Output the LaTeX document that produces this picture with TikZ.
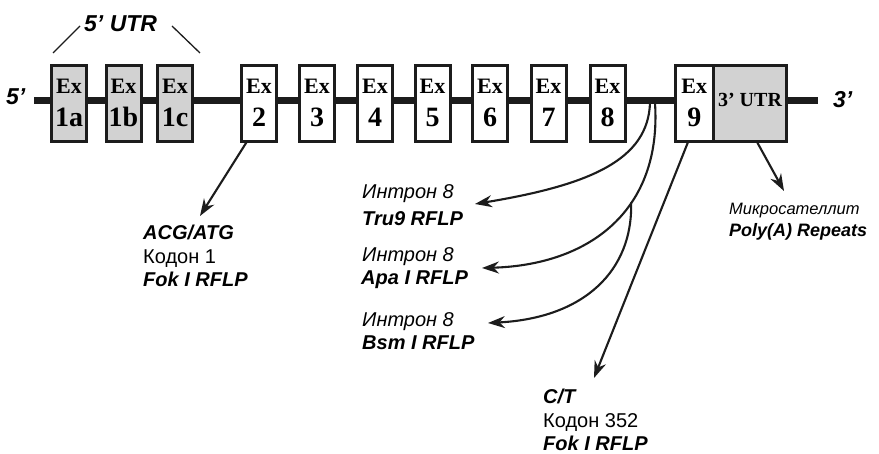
\documentclass[tikz,border=0pt]{standalone}
\usepackage{fontspec}
\setmainfont{Liberation Serif}
\newfontfamily\labfont{Liberation Sans}
\usetikzlibrary{arrows.meta}
\definecolor{boxgray}{HTML}{D2D2D2}
\definecolor{ink}{HTML}{1C1C1C}
\begin{document}
\begin{tikzpicture}[x=1pt,y=-1pt,
  exon/.style={draw=ink, line width=3pt, fill=white, minimum width=35pt, minimum height=76pt, inner sep=0pt, outer sep=0pt},
  gexon/.style={exon, fill=boxgray},
  extxt/.style={font=\fontsize{22}{22}\selectfont\bfseries, anchor=base, inner sep=0pt},
  numtxt/.style={font=\fontsize{28}{28}\selectfont\bfseries, anchor=base, inner sep=0pt},
  lab/.style={anchor=base west, inner sep=0pt, font=\labfont\fontsize{20}{20}\selectfont},
  labbi/.style={lab, font=\labfont\fontsize{20}{20}\selectfont\bfseries\itshape},
  labi/.style={lab, font=\labfont\fontsize{20}{20}\selectfont\itshape},
  endlab/.style={anchor=base west, inner sep=0pt, font=\labfont\fontsize{23}{23}\selectfont\bfseries\itshape},
  ptr/.style={draw=ink, line width=2.1pt, -{Stealth[length=17pt,width=12pt]}},
  thin/.style={draw=ink, line width=1.3pt}]
\useasboundingbox (0,0) rectangle (879,454);
\fill[white] (0,0) rectangle (879,454);

% backbone
\coordinate (b5) at (34,101);
\coordinate (b3) at (818,101);
\draw[ink, line width=7pt] (b5) -- (b3);

% exons
\node[gexon] (e1a) at (69,103.5) {};
\node[gexon] (e1b) at (123.5,103.5) {};
\node[gexon] (e1c) at (175,103.5) {};
\node[exon] (e2) at (259,103.5) {};
\node[exon] (e3) at (317,103.5) {};
\node[exon] (e4) at (375,103.5) {};
\node[exon] (e5) at (432.5,103.5) {};
\node[exon] (e6) at (490,103.5) {};
\node[exon] (e7) at (548.5,103.5) {};
\node[exon] (e8) at (607.5,103.5) {};
\node[exon, minimum width=37.5pt] (e9) at (694.25,103.5) {};
\node[gexon, minimum width=73.5pt] (utr) at (749.75,103.5) {};

\foreach \n/\x/\t in {t1a/69/1a, t1b/123.5/1b, t1c/175/1c, t2/259/2, t3/317/3, t4/375/4, t5/432.5/5, t6/490/6, t7/548.5/7, t8/607.5/8, t9/694.25/9}{
  \node[extxt] (x\n) at (\x,94) {Ex};
  \node[numtxt] (n\n) at (\x,127) {\t};
}
\node[extxt, font=\fontsize{20}{20}\selectfont\bfseries] (utrtxt) at (750,107) {3’ UTR};

% end labels
\node[endlab] (p5) at (6,105) {5’};
\node[endlab] (p3) at (833,108) {3’};
\node[endlab] (u5) at (84,32) {5’ UTR};
\coordinate (u5l) at (53,53);
\coordinate (u5r) at (200,53);
\draw[thin] (u5l) -- (80,26);
\draw[thin] (u5r) -- (172,26);

% Ex2 arrow
\coordinate (tipA) at (200,216);
\draw[ptr] ([xshift=-12pt]e2.south) -- (tipA);
\node[labbi] (l1a) at (143,240) {ACG/ATG};
\node[lab] (l1b) at (143,264) {Кодон 1};
\node[labbi] (l1c) at (143,287) {Fok I RFLP};

% intron 8 curves
\coordinate (i8a) at (650,103);
\coordinate (i8b) at (655,103);
\coordinate (tipT) at (475,204);
\coordinate (tipP) at (482,268);
\coordinate (tipB) at (488,323);
\draw[ptr] (i8a) .. controls (648,160) and (590,185) .. (tipT);
\draw[ptr] (i8b) .. controls (662,210) and (590,265) .. coordinate[pos=0.38] (junc) (tipP);
\draw[ptr] (junc) .. controls (633,270) and (585,318) .. (tipB);

\node[labi] (t1) at (362,199) {Интрон 8};
\node[labbi] (t2) at (362,226) {Tru9 RFLP};
\node[labi] (a1) at (362,262) {Интрон 8};
\node[labbi] (a2) at (361,285) {Apa I RFLP};
\node[labi] (s1) at (362,327) {Интрон 8};
\node[labbi] (s2) at (362,350) {Bsm I RFLP};

% Ex9 arrow
\coordinate (tipC) at (594,378);
\draw[ptr] ([xshift=-6pt]e9.south) -- (tipC);
\node[labbi] (c1) at (543,404) {C/T};
\node[lab] (c2) at (543,428) {Кодон 352};
\node[labbi] (c3) at (543,450) {Fok I RFLP};

% 3' UTR arrow
\coordinate (tipM) at (784,191);
\draw[ptr] ([xshift=7pt]utr.south) -- (tipM);
\node[labi, font=\labfont\fontsize{16.5}{16.5}\selectfont\itshape] (m1) at (729,215) {Микросателлит};
\node[labbi, font=\labfont\fontsize{18}{18}\selectfont\bfseries\itshape] (m2) at (729,237) {Poly(A) Repeats};
\end{tikzpicture}
\end{document}
